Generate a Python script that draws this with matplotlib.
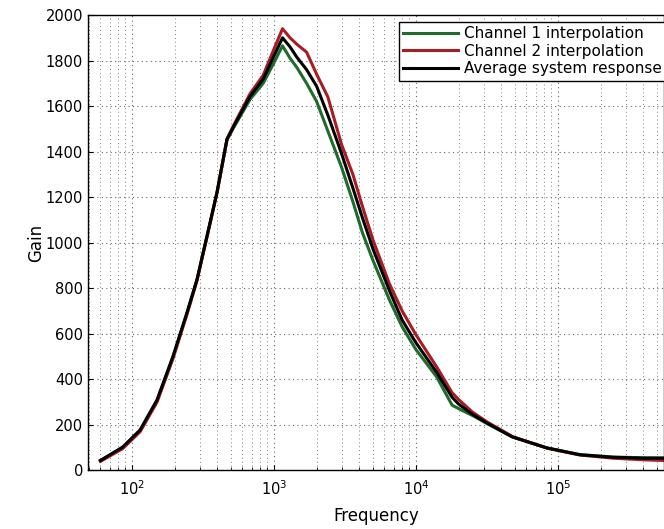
import matplotlib
matplotlib.use('Agg')
import matplotlib.pyplot as plt
from matplotlib.ticker import LogLocator, MultipleLocator, NullFormatter

plt.rcParams['font.family'] = ['DejaVu Sans']

# Frequency points (Hz)
freq = [60, 86, 114, 150, 194, 244, 287, 337, 397, 467, 520, 680, 840, 1000,
        1150, 1300, 1450, 1700, 2000, 2400, 3000, 3600, 4200, 5000, 6500, 8000,
        10000, 14000, 18000, 20000, 25000, 32000, 48000, 84000, 143000, 245000,
        400000, 550000]

# Gain of each curve at those frequencies
ch1_gain = [42, 98, 172, 302, 492, 688, 835, 1024, 1218, 1450, 1505, 1630, 1700, 1790,
            1865, 1810, 1770, 1700, 1620, 1490, 1330, 1180, 1044, 920, 749, 630,
            530, 410, 285, 270, 240, 203, 145, 97, 68, 57, 54, 53]
ch2_gain = [38, 94, 168, 298, 488, 684, 832, 1022, 1218, 1455, 1515, 1655, 1735, 1850,
            1940, 1900, 1872, 1837, 1740, 1640, 1430, 1300, 1160, 1010, 820, 700,
            595, 454, 340, 310, 255, 210, 147, 96, 66, 52, 45, 42]
avg_gain = [42, 101, 176, 308, 498, 692, 837, 1026, 1220, 1454, 1510, 1643, 1718, 1820,
            1900, 1860, 1815, 1760, 1687, 1560, 1390, 1240, 1110, 970, 790, 660,
            560, 430, 320, 290, 245, 205, 145, 97, 67, 56, 52, 52]

fig = plt.figure(figsize=(6.64, 5.29), dpi=100)
ax = fig.add_axes([0.1325, 0.1115, 0.8675, 0.86])

ax.semilogx(freq, ch1_gain, color='#1e6b2a', lw=2.2, label='Channel 1 interpolation')
ax.semilogx(freq, ch2_gain, color='#a81c22', lw=2.2, label='Channel 2 interpolation')
ax.semilogx(freq, avg_gain, color='black', lw=2.2, label='Average system response')

ax.set_xlim(49, 5.6e5)
ax.set_ylim(0, 2000)
ax.yaxis.set_major_locator(MultipleLocator(200))
ax.xaxis.set_major_locator(LogLocator(base=10, numticks=10))
ax.xaxis.set_minor_locator(LogLocator(base=10, subs=range(2, 10), numticks=20))
ax.xaxis.set_minor_formatter(NullFormatter())

ax.grid(True, which='major', linestyle=(0, (1, 3)), color='0.4', lw=0.8)
ax.grid(True, which='minor', axis='x', linestyle=(0, (1, 3)), color='0.5', lw=0.7)
ax.tick_params(which='both', direction='in', labelsize=10.5)
ax.tick_params(axis='x', pad=7)
for s in ax.spines.values():
    s.set_linewidth(1.0)

ax.set_xlabel('Frequency', fontsize=12, labelpad=6)
ax.set_ylabel('Gain', fontsize=12, labelpad=0)

leg = ax.legend(loc='upper right', fontsize=11, fancybox=False, framealpha=1,
                edgecolor='black', bbox_to_anchor=(1.005, 0.985), borderaxespad=0,
                handlelength=3.6, handletextpad=0.4, labelspacing=0.15, borderpad=0.3)
leg.get_frame().set_linewidth(1.0)

fig.savefig('out.png', dpi=100)
